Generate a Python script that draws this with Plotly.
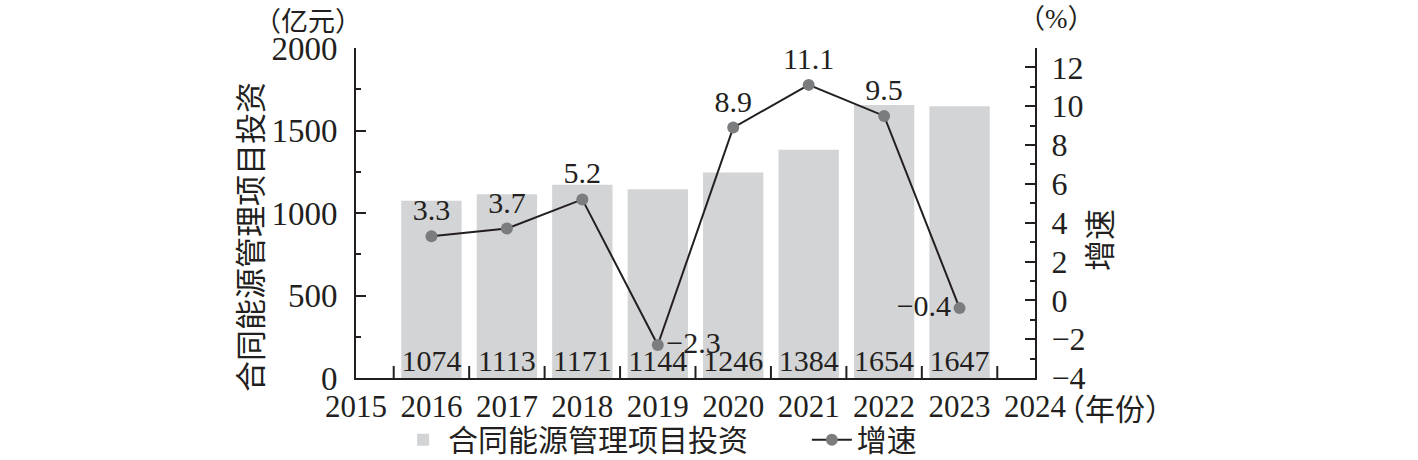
import plotly.graph_objects as go

years = [2016, 2017, 2018, 2019, 2020, 2021, 2022, 2023]
investment = [1074, 1113, 1171, 1144, 1246, 1384, 1654, 1647]
growth = [3.3, 3.7, 5.2, -2.3, 8.9, 11.1, 9.5, -0.4]
growth_text = ["3.3", "3.7", "5.2", "\u22122.3", "8.9", "11.1", "9.5", "\u22120.4"]
growth_pos = ["top center", "top center", "top center", "middle right",
              "top center", "top center", "top center", "middle left"]
x_tick_years = list(range(2015, 2025))
x_tick_labels = [str(y) for y in x_tick_years]
x_boundaries = [y + 0.5 for y in x_tick_years[:-1]]
left_ticks = [0, 500, 1000, 1500, 2000]
right_ticks = [-4, -2, 0, 2, 4, 6, 8, 10, 12]

BLACK = "#231f20"
FONT = "Liberation Serif, Noto Sans CJK SC, serif"
CJK = "Noto Sans CJK SC"
BAR_COLOR = "#d3d4d6"
MARKER_COLOR = "#7b7c7e"
X_RANGE = [x_tick_years[0], x_tick_years[-1]]
PLOT_H = 460 - 48 - 82
NBSP = "\u00a0"

fig = go.Figure()
fig.add_trace(go.Bar(
    x=years, y=investment, name="合同能源管理项目投资" + NBSP * 8,
    marker=dict(color=BAR_COLOR, line=dict(width=0)), width=0.8,
    yaxis="y",
))
fig.add_trace(go.Scatter(
    x=years, y=[0] * len(years), mode="text",
    text=[str(v) for v in investment], textposition="top center",
    textfont=dict(family=FONT, size=30, color=BLACK),
    showlegend=False, cliponaxis=False, yaxis="y", hoverinfo="skip",
))
fig.add_trace(go.Scatter(
    x=years, y=growth, name="增速", mode="lines+markers+text",
    line=dict(color=BLACK, width=2),
    marker=dict(color=MARKER_COLOR, size=12),
    text=growth_text, textposition=growth_pos,
    textfont=dict(family=FONT, size=30, color=BLACK),
    cliponaxis=False, yaxis="y2",
))

# category-boundary tick marks on the x axis (pointing up, 12 px)
shapes = [
    dict(type="line", xref="x", yref="paper", x0=b, x1=b, y0=0, y1=12 / PLOT_H,
         line=dict(color=BLACK, width=2), layer="above")
    for b in x_boundaries
]

fig.update_layout(
    width=1418, height=460,
    margin=dict(l=356, r=383, t=48, b=82, autoexpand=False),
    paper_bgcolor="white", plot_bgcolor="white",
    font=dict(family=FONT, color=BLACK, size=30),
    bargap=0.2,
    shapes=shapes,
    xaxis=dict(
        range=X_RANGE, tickmode="array", tickvals=x_tick_years,
        ticktext=x_tick_labels, ticks="", showgrid=False, zeroline=False,
        showline=True, linecolor=BLACK, linewidth=2, automargin=False,
        tickfont=dict(family=FONT, size=31, color=BLACK),
    ),
    yaxis=dict(
        range=[0, 2000], tickmode="array", tickvals=left_ticks,
        ticks="inside", ticklen=10, tickwidth=2, tickcolor=BLACK,
        showgrid=False, zeroline=False, showline=True, linecolor=BLACK, linewidth=2,
        tickfont=dict(family=FONT, size=33, color=BLACK),
        ticklabelstandoff=10, automargin=False,
        minor=dict(dtick=250, ticks="inside", ticklen=5, tickwidth=2, tickcolor=BLACK,
                   showgrid=False),
    ),
    yaxis2=dict(
        range=[-4, 13], overlaying="y", side="right", tickmode="array",
        tickvals=right_ticks, ticks="inside", ticklen=10, tickwidth=2, tickcolor=BLACK,
        showgrid=False, zeroline=False, showline=True, linecolor=BLACK, linewidth=2,
        tickfont=dict(family=FONT, size=32, color=BLACK),
        ticklabelstandoff=8, automargin=False,
        minor=dict(dtick=1, tick0=0, ticks="inside", ticklen=5, tickwidth=2,
                   tickcolor=BLACK, showgrid=False),
    ),
    legend=dict(
        orientation="h", x=0.062, xanchor="left", y=-0.108, yanchor="top",
        font=dict(family=CJK, size=30, color=BLACK),
        bgcolor="rgba(0,0,0,0)", itemwidth=40,
    ),
    annotations=[
        dict(text="合同能源管理项目投资", textangle=-90, xref="paper", yref="paper",
             x=0, xshift=-108, y=0.427, xanchor="center", yanchor="middle",
             showarrow=False, font=dict(family=CJK, size=31, color=BLACK)),
        dict(text="增速", textangle=-90, xref="paper", yref="paper",
             x=1, xshift=62, y=0.418, xanchor="center", yanchor="middle",
             showarrow=False, font=dict(family=CJK, size=31, color=BLACK)),
        dict(text="（亿元）", xref="paper", yref="paper", x=-0.07, y=1.0,
             yshift=29, xanchor="center", yanchor="middle", showarrow=False,
             font=dict(family=CJK, size=27, color=BLACK)),
        dict(text="（%）", xref="paper", yref="paper", x=1.032, y=1.0,
             yshift=29, xanchor="center", yanchor="middle", showarrow=False,
             font=dict(family=FONT, size=27, color=BLACK)),
        dict(text="（年份）", xref="paper", yref="paper", x=1.0, y=0,
             xshift=18, yshift=-29, xanchor="left", yanchor="middle", showarrow=False,
             font=dict(family=CJK, size=30, color=BLACK)),
    ],
)

fig.write_html("out.html", config={"displayModeBar": False},
               post_script="document.body.style.margin='0px';")
